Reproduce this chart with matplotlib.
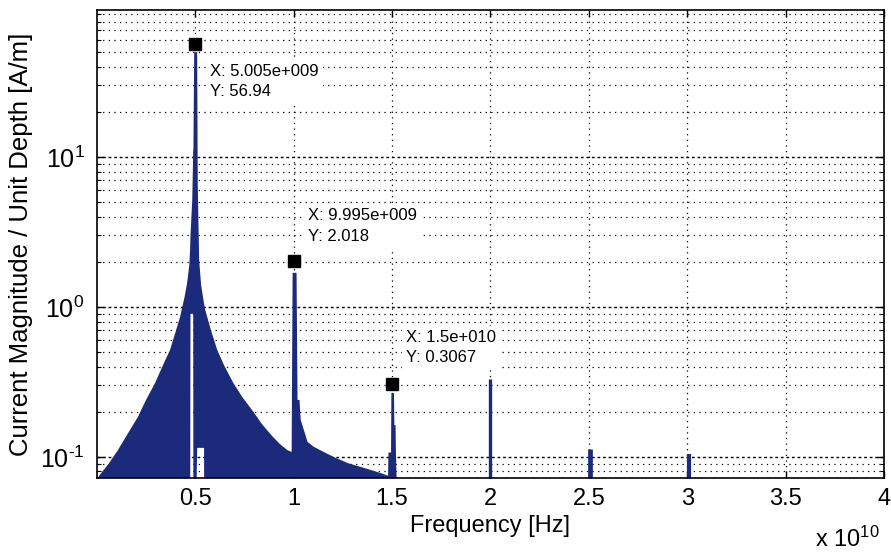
import numpy as np
import matplotlib
matplotlib.use("Agg")
import matplotlib.pyplot as plt
from matplotlib.ticker import FuncFormatter, LogLocator, FixedLocator

plt.rcParams['font.family'] = ['Liberation Sans', 'DejaVu Sans']
plt.rcParams['mathtext.fontset'] = 'custom'
plt.rcParams['mathtext.rm'] = 'Liberation Sans'
plt.rcParams['mathtext.it'] = 'Liberation Sans:italic'
plt.rcParams['mathtext.bf'] = 'Liberation Sans:bold'
plt.rcParams['axes.unicode_minus'] = False

# ---- data (frequency in GHz, magnitude in A/m) ----
freq_ghz = [0.0, 0.15, 0.6, 1.07, 1.6, 2.09, 2.5, 2.96, 3.4, 3.72, 4.0, 4.23, 4.45, 4.59,
            4.70, 4.74, 4.76, 4.85, 4.90, 4.91, 4.95, 5.10, 5.13, 5.20, 5.30, 5.45, 5.47,
            5.51, 5.8, 6.12, 6.5, 6.94, 7.4, 7.91, 8.4, 8.93, 9.3, 9.69, 9.90, 9.95,
            10.15, 10.2, 10.3, 10.36, 10.71, 11.02, 11.53, 12.04, 12.76, 13.57, 14.44,
            14.80, 14.82, 14.95, 14.97, 15.10, 15.12, 15.18, 15.20, 15.25]
upper_env = [0.070, 0.076, 0.09, 0.111, 0.145, 0.185, 0.24, 0.311, 0.42, 0.517, 0.68, 0.858,
             1.15, 1.445, 1.9, 2.4, 3.0, 5.17, 11.1, 11.5, 50.0, 50.0, 6.5, 2.06, 1.4, 1.05,
             1.02, 0.955, 0.7, 0.517, 0.4, 0.311, 0.25, 0.204, 0.165, 0.137, 0.122, 0.111,
             0.108, 1.69, 1.69, 0.24, 0.24, 0.177, 0.126, 0.117, 0.108, 0.100, 0.091, 0.0846,
             0.078, 0.075, 0.107, 0.107, 0.267, 0.267, 0.163, 0.163, 0.107, 0.06]
lower_env = [0.01, 0.01, 0.01, 0.01, 0.01, 0.01, 0.01, 0.01, 0.01, 0.01, 0.01, 0.01,
             0.01, 0.01, 0.01, 0.01, 0.9, 0.9, 0.9, 0.01, 0.01, 0.115, 0.115, 0.115, 0.115, 0.115,
             0.01, 0.01, 0.01, 0.01, 0.01, 0.01, 0.01, 0.01, 0.01, 0.01, 0.01, 0.01,
             0.01, 0.01, 0.01, 0.01, 0.01, 0.01, 0.01, 0.01, 0.01, 0.01, 0.01, 0.01,
             0.01, 0.01, 0.01, 0.01, 0.01, 0.01, 0.01, 0.01, 0.01, 0.01]

harm_freq_ghz = [20.0, 25.05, 30.1]
harm_vals = [0.33, 0.113, 0.105]
harm_widths = [2.4, 3.4, 3.0]

tip_freq = [5.005e9, 9.995e9, 1.5e10]
tip_vals = [56.94, 2.018, 0.3067]
tip_labels = ["X: 5.005e+009\nY: 56.94", "X: 9.995e+009\nY: 2.018", "X: 1.5e+010\nY: 0.3067"]
tip_text_pos = [(5.77e9, 31.9), (10.71e9, 3.47), (15.71e9, 0.537)]

xticks = [0.5e10, 1.0e10, 1.5e10, 2.0e10, 2.5e10, 3.0e10, 3.5e10, 4.0e10]

navy = '#1c2a7c'

fig = plt.figure(figsize=(8.91, 5.54), dpi=100)
ax = fig.add_axes([97/891, 76/554, 787/891, 468/554])

f = np.array(freq_ghz) * 1e9
ax.fill_between(f, lower_env, upper_env, color=navy, linewidth=0, zorder=2)
ax.vlines(np.array(harm_freq_ghz) * 1e9, 0.01, harm_vals, colors=navy,
          linewidths=harm_widths, zorder=2)

ax.set_yscale('log')
ax.set_xlim(1e7, 4e10)
ax.set_ylim(0.0724, 95.5)

def yfmt(v, p):
    e = int(round(np.log10(v)))
    if e < 0:
        return r'$\mathdefault{10^{\text{-}%d}}$' % (-e)
    return r'$\mathdefault{10^{%d}}$' % e

ax.xaxis.set_major_locator(FixedLocator(xticks))
ax.xaxis.set_major_formatter(FuncFormatter(lambda v, p: '%g' % (v / 1e10)))
ax.yaxis.set_major_locator(LogLocator(base=10, numticks=10))
ax.yaxis.set_major_formatter(FuncFormatter(yfmt))
ax.yaxis.set_minor_locator(LogLocator(base=10, subs=np.arange(2, 10), numticks=20))
ax.yaxis.set_minor_formatter(FuncFormatter(lambda v, p: ''))

ax.set_axisbelow(True)
ax.grid(True, which='major', axis='x', color='k', linestyle=(0, (1, 3.5)), linewidth=0.9)
ax.grid(True, which='major', axis='y', color='k', linestyle=(0, (2, 2)), linewidth=1.0)
ax.grid(True, which='minor', axis='y', color='k', linestyle=(0, (1, 3.5)), linewidth=0.9)

ax.tick_params(which='both', direction='in', top=True, right=True, colors='k')
ax.tick_params(which='major', length=5, width=1.0, labelsize=17)
ax.tick_params(axis='x', which='major', pad=7)
ax.tick_params(axis='y', which='major', pad=9, labelsize=18)
ax.tick_params(which='minor', length=3, width=0.8)
for s in ax.spines.values():
    s.set_linewidth(1.2)
    s.set_color('k')

ax.set_xlabel('Frequency [Hz]', fontsize=17, labelpad=4)
ax.set_ylabel('Current Magnitude / Unit Depth [A/m]', fontsize=18.5, labelpad=5)

ax.plot(tip_freq, tip_vals, 's', color='k', markersize=8, zorder=6, clip_on=False)
for (tx, ty), lab in zip(tip_text_pos, tip_labels):
    ax.text(tx, ty, lab, fontsize=12, ha='left', va='center', linespacing=1.45,
            zorder=5, bbox=dict(facecolor='white', edgecolor='none', pad=3))

fig.text(880/891, 2/554, r'x 10$^{10}$', fontsize=17, ha='right', va='bottom')

fig.savefig('out.png', dpi=100)
